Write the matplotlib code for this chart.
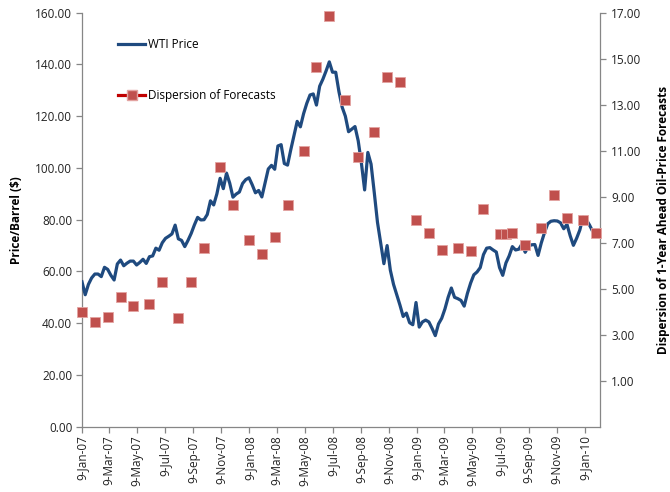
import matplotlib
matplotlib.use('Agg')
import matplotlib.pyplot as plt
import matplotlib.dates as mdates
from matplotlib.lines import Line2D
import pandas as pd

plt.rcParams['font.family'] = ['Open Sans', 'DejaVu Sans']

# Weekly WTI price ($/barrel), Tuesdays from 9-Jan-07
wti_start = '2007-01-09'
wti_price = [
    56.0, 51.0, 55.0, 57.5, 59.0, 59.0, 58.0, 61.6, 60.8, 58.5,
    56.7, 62.9, 64.4, 62.2, 63.2, 64.0, 64.0, 62.5, 63.5, 64.7,
    63.1, 65.7, 66.0, 69.0, 68.2, 71.1, 72.8, 73.6, 74.5, 77.9,
    72.6, 72.0, 69.6, 72.0, 74.7, 78.0, 80.9, 79.9, 80.0, 82.0,
    87.3, 85.7, 90.0, 96.0, 92.0, 98.0, 94.1, 88.7, 89.9, 90.7,
    94.0, 95.5, 96.2, 93.5, 90.4, 91.3, 88.8, 94.2, 99.6, 101.0,
    99.5, 108.5, 109.0, 101.7, 101.1, 107.0, 112.5, 118.0, 115.9, 121.0,
    125.0, 128.2, 128.6, 124.3, 131.6, 134.3, 137.5, 141.0, 137.0, 137.0,
    129.5, 123.5, 120.0, 114.0, 115.0, 116.0, 110.5, 101.8, 91.5, 106.0,
    101.5, 90.5, 79.0, 71.0, 63.0, 70.0, 60.5, 55.0, 51.0, 47.0,
    42.6, 43.9, 40.2, 39.4, 48.0, 38.5, 40.5, 41.2, 40.5, 38.0,
    35.2, 39.7, 41.9, 45.5, 50.0, 53.6, 50.0, 49.5, 48.8, 46.6,
    51.5, 55.5, 58.7, 59.8, 61.5, 66.5, 69.0, 69.2, 68.3, 67.5,
    61.5, 58.5, 63.3, 66.0, 69.6, 68.3, 68.6, 70.6, 67.4, 69.8,
    70.3, 70.4, 66.2, 71.0, 75.0, 78.4, 79.4, 79.6, 79.5, 78.8,
    76.5, 78.2, 73.8, 70.1, 72.8, 76.0, 81.0, 80.0, 78.0, 75.5,
    75.4, 75.2,
]

# Dispersion of 1-year-ahead forecasts (right axis)
disp_dates = [
    '2007-01-09', '2007-02-06', '2007-03-06', '2007-04-03', '2007-05-01',
    '2007-06-05', '2007-07-03', '2007-08-07', '2007-09-04', '2007-10-02',
    '2007-11-06', '2007-12-04', '2008-01-08', '2008-02-05', '2008-03-04',
    '2008-04-01', '2008-05-06', '2008-06-03', '2008-07-01', '2008-08-05',
    '2008-09-02', '2008-10-07', '2008-11-04', '2008-12-02', '2009-01-06',
    '2009-02-03', '2009-03-03', '2009-04-07', '2009-05-05', '2009-06-02',
    '2009-07-07', '2009-07-21', '2009-08-04', '2009-09-01', '2009-10-06',
    '2009-11-03', '2009-12-01', '2010-01-05', '2010-02-02',
]
disp_values = [
    4.00, 3.55, 3.77, 4.62, 4.25,
    4.33, 5.31, 3.74, 5.30, 6.75,
    10.31, 8.65, 7.10, 6.50, 7.24,
    8.62, 10.99, 14.65, 16.86, 13.20,
    10.74, 11.80, 14.22, 14.00, 7.98,
    7.43, 6.69, 6.79, 6.66, 8.46,
    7.37, 7.40, 7.42, 6.90, 7.66,
    9.09, 8.08, 7.98, 7.42,
]

left_ticks = [0, 20, 40, 60, 80, 100, 120, 140, 160]
right_ticks = [1, 3, 5, 7, 9, 11, 13, 15, 17]

wti_dates = pd.date_range(wti_start, periods=len(wti_price), freq='7D')
disp_dt = pd.to_datetime(disp_dates)
tick_dates = pd.date_range('2007-01-09', '2010-01-09', freq=pd.DateOffset(months=2))

blue = '#1F4A7F'
red = '#C0504D'
gray = '#868686'
fs = 8.5

fig = plt.figure(figsize=(6.70, 4.92), dpi=100)
ax = fig.add_axes([82/670, 1 - 426.7/492, (600-82)/670, (426.7-12.7)/492])
ax2 = ax.twinx()

ax.plot(wti_dates, wti_price, color=blue, lw=2.3, solid_joinstyle='round', zorder=3)
ax2.plot(disp_dt, disp_values, ls='none', marker='s', markersize=7.3,
         markerfacecolor=red, markeredgecolor='#E3A3A1', markeredgewidth=0.6,
         zorder=4, clip_on=False)

ax.set_ylim(0, 160)
ax2.set_ylim(-1, 17)
ax.set_xlim(pd.Timestamp('2007-01-09'), pd.Timestamp('2010-02-11'))

ax.set_yticks(left_ticks)
ax.set_yticklabels([f'{v:.2f}' for v in left_ticks], fontsize=fs)
ax2.set_yticks(right_ticks)
ax2.set_yticklabels([f'{v:.2f}' for v in right_ticks], fontsize=fs)
ax.set_xticks(tick_dates)
ax.set_xticklabels([f'{d.day}-{d.strftime("%b-%y")}' for d in tick_dates],
                   rotation=90, fontsize=fs)

for a in (ax, ax2):
    a.spines['top'].set_visible(False)
    for s in ('left', 'right', 'bottom'):
        a.spines[s].set_color(gray)
        a.spines[s].set_linewidth(0.9)
    a.tick_params(axis='both', direction='out', length=4, width=0.9,
                  color=gray, pad=2, labelcolor='#222222')
ax2.spines['left'].set_visible(False)
ax2.spines['bottom'].set_visible(False)
ax.spines['right'].set_visible(False)
ax.tick_params(axis='y', pad=3)
ax2.tick_params(axis='y', pad=4)

ax.set_ylabel('Price/Barrel ($)', fontsize=fs, fontweight='bold', labelpad=9)
ax2.set_ylabel('Dispersion of 1-Year Ahead Oil-Price Forecasts', fontsize=fs,
               fontweight='bold', labelpad=11)

handles = [
    Line2D([], [], color=blue, lw=2.3),
    Line2D([], [], color='#C00000', lw=2.3, marker='s', markersize=7.3,
           markerfacecolor=red, markeredgecolor='#E3A3A1'),
]
leg = ax.legend(handles, ['WTI Price', 'Dispersion of Forecasts'],
                loc='upper left', bbox_to_anchor=(0.061, 0.951), frameon=False,
                fontsize=fs, handlelength=2.3, handletextpad=0.2,
                labelspacing=3.25, borderaxespad=0)
leg.set_zorder(5)

fig.savefig('out.png', dpi=100)
